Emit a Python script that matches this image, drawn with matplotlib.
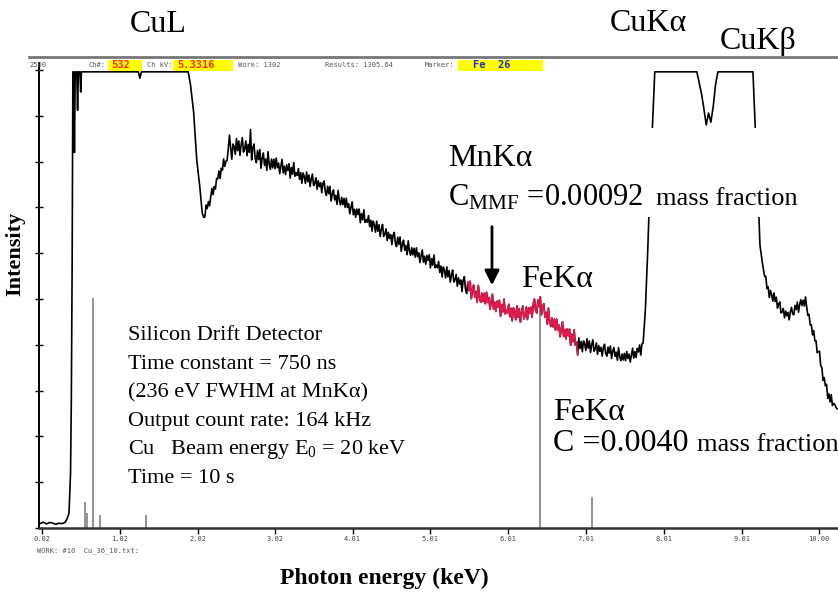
import numpy as np
import matplotlib.pyplot as plt
from matplotlib.patches import Rectangle

plt.rcParams['font.family'] = ['Liberation Serif', 'DejaVu Serif']
plt.rcParams['mathtext.fontset'] = 'custom'
plt.rcParams['mathtext.rm'] = 'Liberation Serif'
plt.rcParams['mathtext.it'] = 'Liberation Serif:italic'

# low energy part of the spectrum (keV, counts)
low_energy = [0.00, 0.04, 0.08, 0.12, 0.16, 0.20, 0.24, 0.28, 0.32, 0.35, 0.37,
              0.39, 0.40, 0.41, 0.42, 0.43, 0.44, 0.45, 0.47, 0.48, 0.49, 0.51,
              0.52, 0.53, 1.26, 1.28, 1.30, 1.90, 1.93, 1.97, 2.01, 2.05, 2.08]
low_counts = [25, 32, 22, 30, 27, 20, 26, 24, 30, 55, 80,
              300, 700, 1400, 2490, 2490, 2050, 2490, 2490, 2280, 2490, 2490,
              2380, 2490, 2490, 2455, 2490, 2490, 2420, 2270, 2010, 1860, 1720]

# bremsstrahlung continuum, one reading every 0.015 keV from 2.100 keV
cont_a_start, cont_a_step = 2.100, 0.015
cont_a = [
    1695, 1700, 1763, 1744, 1782, 1759, 1809, 1854, 1820, 1865, 1851, 1908, 1906, 1949, 1908, 1964, 1953, 2014, 1974, 2002,
    2007, 2071, 2145, 2075, 2013, 2096, 2082, 2039, 2126, 2060, 2113, 2034, 2093, 2131, 2052, 2069, 2113, 2032, 2094, 2051,
    2175, 2009, 2076, 2096, 2018, 1994, 2061, 2011, 2066, 1964, 2019, 2047, 1979, 2014, 1952, 2054, 1986, 1957, 2014, 1966,
    2013, 1961, 2019, 1967, 1992, 1934, 1976, 2012, 1938, 1975, 1929, 1982, 1952, 1989, 1910, 1968, 1931, 1995, 1920, 1939,
    1925, 1962, 1903, 1940, 1881, 1938, 1919, 1881, 1943, 1890, 1927, 1864, 1905, 1932, 1869, 1881, 1912, 1849, 1896, 1863,
    1885, 1830, 1880, 1895, 1835, 1815, 1865, 1825, 1865, 1785, 1825, 1845, 1791, 1816, 1767, 1843, 1789, 1764, 1805, 1765,
    1800, 1750, 1800, 1750, 1770, 1715, 1750, 1780, 1710, 1740, 1696, 1741, 1711, 1741, 1666, 1716, 1682, 1737, 1668, 1683,
    1669, 1705, 1645, 1680, 1620, 1675, 1655, 1615, 1675, 1620, 1655, 1591, 1631, 1657, 1592, 1603, 1633, 1569, 1614, 1580,
    1601, 1547, 1598, 1614, 1555, 1536, 1587, 1548, 1589, 1510, 1550, 1571, 1516, 1542, 1492, 1568, 1513, 1489, 1530, 1491,
    1527, 1478, 1529, 1481, 1502, 1449, 1486, 1518, 1451, 1483, 1440, 1488, 1460, 1492, 1420, 1470, 1435, 1490, 1420, 1435,
    1420, 1455, 1395, 1430, 1370, 1425, 1405, 1365, 1425, 1371, 1406, 1342, 1382, 1408, 1343, 1354, 1384, 1320, 1365, 1331,
    1354, 1290, 1352, 1372, 1302, 1280, 1342, 1296, 1347, 1252, 1301, 1326, 1261, 1292, 1233, 1324, 1259, 1232, 1282, 1236,
    1281, 1224, 1287, 1231, 1258, 1194, 1238, 1276, 1195, 1233, 1182, 1238, 1205, 1243, 1156, 1219, 1180, 1249, 1168, 1189,
    1175, 1221, 1153, 1199, 1131, 1201, 1181, 1137, 1213, 1151, 1197, 1123, 1175, 1212, 1141, 1161, 1206, 1138, 1202, 1171,
    1206, 1151, 1222, 1250, 1187, 1174, 1245, 1208, 1262, 1164, 1206, 1224, 1151, 1177, 1113, 1200, 1132, 1100, 1146, 1098,
    1140, 1080, 1140, 1082, 1108, 1044, 1088, 1126, 1045, 1084, 1032, 1086, 1049, 1086, 997, 1058, 1017, 1082, 998, 1017,
    945, 1038, 980, 1018, 962, 1021, 1005, 969, 1033, 982, 1021, 958, 1000, 1028, 965, 978, 1010, 948, 996, 964,
    986, 938, 986, 1003, 952, 938, 987, 954, 994, 925, 965, 985, 937, 960, 916, 985, 935, 913, 950, 917,
    953, 913, 964, 925, 949, 906, 945, 981, 927, 963, 931, 980, 961, 999, 944, 1004, 1010, 1100, 1200, 1360,
]

# saturated Cu Ka / Cu Kb peaks, every 0.03 keV from 7.80 keV
cont_b_start, cont_b_step = 7.80, 0.03
cont_b = [
    1520, 1900, 2200, 2490, 2490, 2490, 2490, 2490, 2490, 2490,
    2490, 2490, 2490, 2490, 2490, 2490, 2490, 2490, 2490, 2490,
    2490, 2490, 2430, 2370, 2290, 2200, 2265, 2215, 2300, 2420,
    2490, 2490, 2490, 2490, 2490, 2490, 2490, 2490, 2490, 2490,
    2490, 2490, 2490, 2490, 2490, 2490, 2184, 1900, 1545, 1450,
]

# high energy tail, every 0.015 keV from 9.300 keV
cont_c_start, cont_c_step = 9.300, 0.015
cont_c = [
    1372, 1374, 1307, 1317, 1258, 1296, 1274, 1238, 1283, 1236, 1260, 1200, 1223, 1234, 1174, 1178, 1198, 1147, 1184, 1158,
    1177, 1136, 1179, 1204, 1168, 1164, 1215, 1192, 1233, 1178, 1219, 1246, 1214, 1243, 1212, 1261, 1206, 1160, 1166, 1108,
    1110, 1054, 1078, 1022, 1022, 957, 964, 964, 885, 876, 806, 821, 776, 784, 708, 732, 688, 728, 669, 680,
    675, 660, 650,
]

# MnKa region highlighted in red
red_lo, red_hi = 5.49, 6.91

# Fe KLM marker lines
marker_energy = [0.58, 0.60, 0.68, 0.77, 1.36, 6.42, 7.08]
marker_height = [142, 82, 1256, 71, 71, 1245, 170]

tick_pos = [0.02, 1.02, 2.02, 3.02, 4.01, 5.01, 6.01, 7.01, 8.01, 9.01, 10.00]
tick_lab = ["0.02", "1.02", "2.02", "3.02", "4.01", "5.01", "6.01", "7.01",
            "8.01", "9.01", "10.00"]

info_lines = ["Silicon Drift Detector",
              "Time constant = 750 ns",
              "(236 eV FWHM at MnK\u03b1)",
              "Output count rate: 164 kHz",
              "Cu   Beam energy E$_0$ = 20 keV",
              "Time = 10 s"]

energy = np.concatenate([
    low_energy,
    cont_a_start + cont_a_step * np.arange(len(cont_a)),
    cont_b_start + cont_b_step * np.arange(len(cont_b)),
    cont_c_start + cont_c_step * np.arange(len(cont_c)),
])
counts = np.concatenate([low_counts, cont_a, cont_b, cont_c])

W, H = 838, 595


def fx(px):
    return px / W


def fy(py):
    return 1 - py / H


fig = plt.figure(figsize=(W / 100, H / 100), dpi=100)
ax = fig.add_axes([fx(39), fy(528), (838 - 39) / W, (528 - 57) / H])

ax.plot(energy, counts, color='black', lw=1.2, zorder=3)
m = (energy >= red_lo) & (energy <= red_hi)
ax.plot(energy[m], counts[m], color='#e3174b', lw=1.2, zorder=4)
ax.vlines(marker_energy, 0, marker_height, color='#808080', lw=1.2, zorder=2)

ax.annotate('', xy=(5.80, 1310), xytext=(5.80, 1660),
            arrowprops=dict(arrowstyle='-|>', color='black', lw=2,
                            mutation_scale=22), zorder=5)

ax.set_xlim(-0.015, 10.242)
ax.set_ylim(0, 2571)
ax.set_xticks(tick_pos, tick_lab, fontfamily='DejaVu Sans Mono', fontsize=5,
              color='#444444')
ax.set_yticks(np.arange(0, 2501, 250), [])
ax.tick_params(axis='x', direction='out', length=4, width=1, pad=2)
ax.tick_params(axis='y', direction='inout', length=6, width=1)
for s in ['top', 'right']:
    ax.spines[s].set_visible(False)
ax.spines['left'].set_bounds(0, 2540)
ax.spines['left'].set_linewidth(1.4)
ax.spines['bottom'].set_linewidth(1.8)
ax.spines['bottom'].set_color('#333333')

# screen header
fig.add_artist(plt.Line2D([fx(29), fx(838)], [fy(57), fy(57)],
                          color='#777777', lw=2))
for x0, x1 in [(108, 142), (173, 233), (458, 543)]:
    fig.add_artist(Rectangle((fx(x0), fy(71)), fx(x1 - x0), 11 / H,
                             transform=fig.transFigure, facecolor='#ffff00',
                             edgecolor='none'))
mono = dict(fontfamily='DejaVu Sans Mono', va='center')
fig.text(fx(29), fy(65), "2500", size=5, color='#555555', **mono)
fig.text(fx(88), fy(65), "Ch#:", size=5, color='#555555', **mono)
fig.text(fx(111), fy(65), "532", size=7.5, color='#ff2a00',
         weight='bold', **mono)
fig.text(fx(147), fy(65), "Ch kV:", size=5, color='#555555', **mono)
fig.text(fx(177), fy(65), "5.3316", size=7.5, color='#ff2a00',
         weight='bold', **mono)
fig.text(fx(238), fy(65), "Work: 1302", size=5, color='#555555', **mono)
fig.text(fx(325), fy(65), "Results: 1305.64", size=5, color='#555555', **mono)
fig.text(fx(425), fy(65), "Marker:", size=5, color='#555555', **mono)
fig.text(fx(473), fy(65), "Fe  26", size=7.5, color='#2a2acc',
         weight='bold', **mono)
fig.text(fx(37), fy(551), "WORK: #10  Cu_36_10.txt:", size=5,
         color='#555555', **mono)

# white box behind the MnKa annotation
fig.add_artist(Rectangle((fx(440), fy(217)), fx(805 - 440), (217 - 128) / H,
                         transform=fig.transFigure, facecolor='white',
                         edgecolor='none'))

big = dict(size=23, va='baseline')
fig.text(fx(130), fy(32), "CuL", **big)
fig.text(fx(610), fy(31), "CuK\u03b1", **big)
fig.text(fx(720), fy(49), "CuK\u03b2", **big)
fig.text(fx(448), fy(166), "MnK\u03b1", **big)
fig.text(fx(448), fy(205), "C$_{\\mathrm{MMF}}$ =0.00092", size=22,
         va='baseline')
fig.text(fx(656), fy(205), "mass fraction", size=19, va='baseline')
fig.text(fx(521), fy(287), "FeK\u03b1", **big)
fig.text(fx(553), fy(420), "FeK\u03b1", **big)
fig.text(fx(553), fy(451), "C =0.0040", **big)
fig.text(fx(697), fy(451), "mass fraction", size=19, va='baseline')

for i, line in enumerate(info_lines):
    fig.text(fx(128), fy(340 + 28.6 * i), line, size=16, va='baseline')

fig.text(fx(15), fy(254), "Intensity", rotation=90, ha='center',
         va='center', size=16, weight='bold')
fig.text(fx(384), fy(578), "Photon energy (keV)", ha='center', va='center',
         size=17, weight='bold')

fig.savefig("out.png", dpi=100)
